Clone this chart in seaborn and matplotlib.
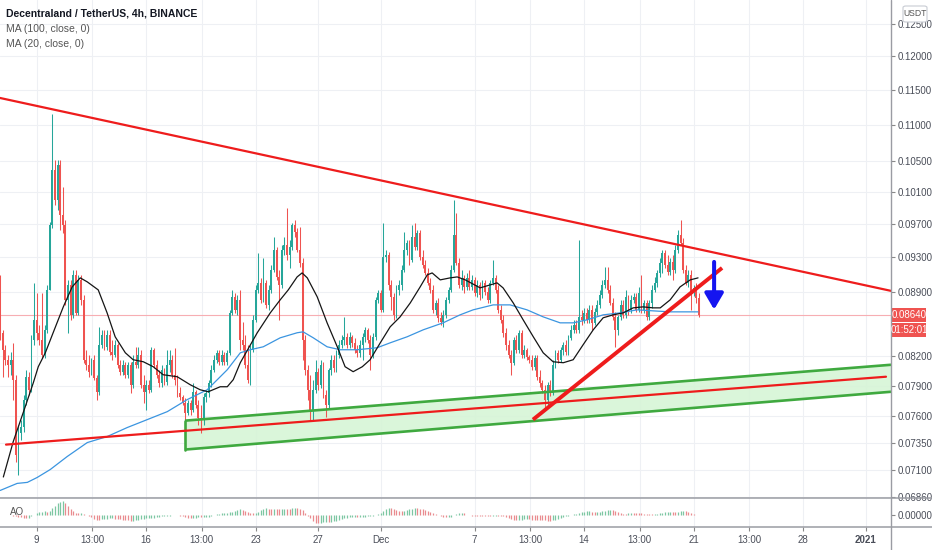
import numpy as np
import pandas as pd
import matplotlib
matplotlib.use("Agg")
import matplotlib.pyplot as plt
import seaborn as sns
from matplotlib.lines import Line2D
from matplotlib.patches import Rectangle, FancyBboxPatch
from matplotlib.ticker import NullLocator, FixedLocator, FixedFormatter

# ---------------- data (prices in units of 1e-5 USDT) ----------------
start_day = 6 + 4 / 6          # Nov 6, 16:00 (x axis = days counted from Nov 0)
candle_step = 1 / 6            # 4h candles
first_open_e5 = 8808

closes_e5 = [
    8448, 8268, 8164, 8112, 8164, 7960, 7239, 7443, 7500, 7761,
    7990, 7859, 8373, 8588, 8448, 8373, 8215, 8480, 8920, 9686,
    10385, 9998, 10451, 9809, 9686, 8808, 8977, 8642, 9091, 8664,
    9034, 8808, 8164, 8112, 8041, 8164, 7980, 7839, 8320, 8426,
    8299, 8426, 8247, 8215, 8320, 8112, 8041, 8112, 8010, 8112,
    7909, 8143, 8112, 8215, 7909, 7839, 7909, 7859, 8268, 8112,
    8010, 7929, 8061, 7940, 8112, 8164, 8010, 7960, 7829, 7790,
    7732, 7634, 7732, 7663, 7839, 7712, 7586, 7567, 7790, 7829,
    7929, 8061, 8164, 8236, 8143, 8215, 8143, 8236, 8664, 8842,
    8697, 8808, 8373, 8320, 8112, 7960, 8268, 8588, 8920, 9000,
    8808, 9000, 8752, 8920, 9149, 9384, 9068, 8977, 9384, 9443,
    9324, 9419, 9686, 9600, 9384, 9230, 8373, 8061, 7859, 7663,
    7859, 8041, 7909, 8112, 7810, 7712, 8061, 8164, 8081, 8215,
    8320, 8373, 8405, 8320, 8405, 8341, 8268, 8236, 8320, 8405,
    8480, 8373, 8215, 8405, 8808, 8886, 8697, 9300, 9324, 8977,
    8842, 8642, 8920, 8977, 9149, 9384, 9467, 9265, 9540, 9419,
    9588, 9300, 9207, 9114, 9000, 8920, 8697, 8774, 8610, 8566,
    8642, 8808, 8920, 9149, 9564, 9230, 8977, 9057, 8954, 9057,
    8954, 9034, 8886, 8977, 8864, 9000, 8898, 8808, 9000, 9057,
    8920, 8697, 8588, 8448, 8320, 8215, 8133, 8373, 8268, 8448,
    8215, 8268, 8195, 8164, 8092, 8184, 7990, 7929, 7859, 7761,
    7909, 7829, 8112, 8236, 8164, 8268, 8320, 8247, 8394, 8480,
    8533, 8480, 8620, 8588, 8664, 8588, 8697, 8555, 8675, 8752,
    8864, 8977, 9034, 8920, 8774, 8620, 8480, 8620, 8752, 8642,
    8842, 8697, 8808, 8842, 8697, 8886, 8697, 8774, 8620, 8774,
    8920, 9000, 9114, 9230, 9348, 9207, 9126, 9242, 9149, 9384,
    9564, 9467, 9149, 9000, 9091, 8886, 8943, 8830, 8642,
]

highs_e5 = [
    9091, 8480, 8320, 8215, 8247, 8341, 8010, 7519, 7567, 7810,
    8061, 8041, 8426, 9000, 8886, 8533, 8886, 8533, 8977, 9722,
    11149, 10518, 10518, 10518, 10164, 9747, 9034, 9034, 9149, 9149,
    9091, 9091, 8864, 8268, 8215, 8184, 8215, 8010, 8512, 8480,
    8480, 8480, 8480, 8373, 8373, 8341, 8164, 8164, 8143, 8143,
    8143, 8215, 8299, 8299, 8268, 8010, 7960, 7960, 8299, 8289,
    8164, 8061, 8112, 8081, 8268, 8268, 8215, 8289, 8010, 7889,
    7810, 7780, 7761, 7761, 7929, 7859, 7761, 7712, 7829, 7859,
    7960, 8112, 8215, 8268, 8268, 8268, 8247, 8268, 8697, 8920,
    8886, 8864, 8920, 8566, 8426, 8320, 8320, 8642, 8977, 9348,
    9057, 9289, 9034, 8977, 9207, 9540, 9419, 9149, 9443, 9540,
    9897, 9503, 9710, 9747, 9649, 9661, 9289, 8426, 8112, 8010,
    7960, 8164, 8081, 8164, 8143, 7859, 8081, 8215, 8215, 8268,
    8373, 8426, 8620, 8448, 8458, 8426, 8394, 8320, 8373, 8448,
    8512, 8501, 8426, 8448, 8842, 8920, 8920, 9710, 9384, 9360,
    9034, 8886, 8977, 9034, 9207, 9600, 9503, 9503, 9686, 9710,
    9624, 9624, 9384, 9265, 9172, 9057, 8977, 8808, 8830, 8675,
    8697, 8842, 8954, 9207, 9998, 9835, 9289, 9149, 9091, 9114,
    9149, 9091, 9068, 9034, 9011, 9034, 9034, 8954, 9034, 9265,
    9091, 8977, 8752, 8642, 8501, 8373, 8268, 8405, 8426, 8480,
    8480, 8320, 8289, 8215, 8215, 8215, 8215, 8061, 7960, 7909,
    7940, 7960, 8164, 8268, 8268, 8299, 8352, 8373, 8426, 8533,
    8588, 8588, 9503, 8697, 8719, 8719, 8752, 8752, 8719, 8808,
    8920, 9034, 9184, 9184, 8977, 8830, 8675, 8642, 8808, 8808,
    8920, 8864, 8864, 8886, 8886, 8954, 9091, 8808, 8808, 8808,
    8977, 9068, 9149, 9289, 9384, 9384, 9324, 9289, 9324, 9443,
    9624, 9747, 9527, 9207, 9149, 9149, 8977, 9000, 8886,
]

lows_e5 = [
    8373, 7990, 8112, 7990, 8010, 7761, 7175, 7058, 7378, 7453,
    7712, 7810, 7839, 8320, 8373, 8320, 8184, 8184, 8448, 8920,
    9649, 9934, 9872, 9624, 9588, 8752, 8448, 8588, 8610, 8642,
    8642, 8752, 8133, 8061, 7990, 8010, 7960, 7761, 7810, 8289,
    8268, 8268, 8215, 8164, 8195, 8081, 8010, 8010, 7980, 7980,
    7829, 7879, 8081, 8081, 7879, 7732, 7663, 7829, 7839, 8081,
    7980, 7889, 7889, 7909, 7909, 8041, 7980, 7909, 7790, 7761,
    7712, 7567, 7615, 7615, 7644, 7683, 7519, 7443, 7519, 7741,
    7790, 7889, 8041, 8133, 8112, 8112, 8112, 8112, 8215, 8642,
    8664, 8642, 8268, 8268, 8081, 7929, 7909, 8247, 8566, 8886,
    8774, 8786, 8719, 8697, 8886, 9126, 9034, 8588, 8943, 9324,
    9265, 9172, 9384, 9540, 9360, 9184, 8164, 8010, 7761, 7567,
    7567, 7829, 7859, 7879, 7780, 7596, 7683, 8010, 8041, 8041,
    8184, 8289, 8320, 8289, 8289, 8299, 8236, 8195, 8195, 8164,
    8352, 8341, 8061, 8184, 8373, 8774, 8675, 8675, 9242, 8920,
    8697, 8588, 8610, 8864, 8920, 9126, 9324, 9207, 9242, 9384,
    9384, 9265, 9172, 9091, 8977, 8886, 8664, 8642, 8566, 8533,
    8512, 8610, 8774, 8898, 9126, 9207, 8943, 8920, 8886, 8920,
    8920, 8920, 8853, 8842, 8808, 8830, 8864, 8774, 8774, 8977,
    8886, 8664, 8555, 8405, 8268, 8184, 8010, 8112, 8236, 8236,
    8184, 8184, 8164, 8133, 8061, 8061, 7960, 7889, 7829, 7663,
    7692, 7800, 7810, 8081, 8133, 8143, 8215, 8215, 8215, 8373,
    8448, 8448, 8448, 8533, 8555, 8555, 8555, 8480, 8533, 8642,
    8719, 8830, 8943, 8886, 8752, 8588, 8299, 8426, 8588, 8610,
    8610, 8642, 8664, 8774, 8675, 8675, 8664, 8664, 8588, 8588,
    8719, 8898, 8954, 9068, 9114, 9172, 9091, 9091, 9034, 9114,
    9348, 9443, 9114, 8977, 8954, 8697, 8853, 8774, 8620,
]

# moving averages (candle index, price e5)
ma20_idx = [1.2, 5, 9.6, 12.7, 14.6, 17.3, 20.3, 24.2, 27.6, 30.7, 33.4, 37.6, 41, 44.1, 48,
            51, 54.9, 58.7, 62.5, 67.9, 72.9, 76.7, 79.8, 84.4, 87.1, 89.4, 92.1, 98.6, 103.6,
            107.4, 110.5, 113.9, 115.8, 117.8, 121.6, 125.4, 129.3, 132.3, 135.4, 138.9, 141.9,
            145.8, 149.6, 153.4, 157.3, 161.1, 163.8, 165.7, 168.8, 172.6, 175.3, 178.4, 184.1,
            188, 190.6, 192.9, 196.8, 200.6, 204.5, 208.3, 212.1, 216, 219.8, 223.6, 227.5,
            231.3, 235.1, 239, 242.8, 246.6, 250.5, 253.2, 257, 260.8, 264.7, 267.7]
ma20_e5 = [7036, 7359, 7692, 7929, 8092, 8236, 8448, 8730, 8954, 9057, 9011, 8920, 8664, 8405, 8236,
           8164, 8143, 8092, 8010, 7990, 7909, 7859, 7839, 7889, 7889, 7960, 8133, 8448, 8664,
           8808, 8920, 9068, 9114, 9057, 8842, 8555, 8299, 8092, 8041, 8092, 8164,
           8341, 8512, 8620, 8774, 8954, 9091, 9114, 9034, 9057, 9068, 9034, 8943,
           8977, 9000, 8943, 8774, 8588, 8405, 8236, 8143, 8133, 8164, 8320, 8480,
           8610, 8642, 8664, 8719, 8730, 8719, 8719, 8808, 8954, 9034, 9057]
ma100_idx = [0, 6.5, 10.4, 14.2, 19.2, 25.7, 33.4, 41, 48.7, 56.4, 64.1, 71.7, 79.4, 87.1, 92.1,
             95.9, 100.9, 107.4, 113.9, 116.2, 120.1, 125.4, 130.4, 136.9, 144.6, 149.6, 156.1,
             162.3, 169.9, 176.4, 181.4, 189.1, 195.6, 202.1, 208.3, 214.8, 219.8, 225.2, 231.3,
             237.8, 244.3, 250.5, 257, 263.5, 267.7]
ma100_e5 = [6917, 6979, 6988, 7032, 7103, 7221, 7350, 7406, 7491, 7567, 7644, 7761, 7859, 8061, 8236,
            8268, 8299, 8394, 8448, 8458, 8394, 8299, 8268, 8268, 8289, 8341, 8405,
            8480, 8555, 8642, 8697, 8752, 8752, 8697, 8620, 8555, 8555, 8588, 8642,
            8664, 8697, 8686, 8675, 8675, 8675]

# axis ticks
price_ticks = [0.125, 0.12, 0.115, 0.11, 0.105, 0.101, 0.097, 0.093, 0.089,
               0.082, 0.079, 0.076, 0.0735, 0.071, 0.0686]
x_tick_pos = [9, 12 + 13 / 24, 16, 19 + 13 / 24, 23, 27, 31, 37, 40 + 13 / 24, 44,
              47 + 13 / 24, 51, 54 + 13 / 24, 58, 62]
x_tick_labels = ["9", "13:00", "16", "13:00", "23", "27", "Dec", "7", "13:00", "14",
                 "13:00", "21", "13:00", "28", "2021"]

# drawings (day, price)
desc_line_x, desc_line_p = [6.653, 63.62], [0.11378, 0.08909]
low_line_x, low_line_p = [7.037, 63.30], [0.07331, 0.07990]
channel_x = [18.48, 63.62]
channel_top = [0.07557, 0.08112]
channel_bot = [0.07285, 0.07839]
rise_line_x, rise_line_p = [40.73, 52.82], [0.07567, 0.09172]
arrow_x, arrow_p = 52.31, [0.09242, 0.08700]
last_price = 0.0864
countdown = "01:52:01"

# ---------------- prepare ----------------
closes = np.array(closes_e5) / 1e5
highs = np.array(highs_e5) / 1e5
lows = np.array(lows_e5) / 1e5
opens = np.concatenate([[first_open_e5 / 1e5], closes[:-1]])
highs = np.maximum(highs, np.maximum(opens, closes))
lows = np.minimum(lows, np.minimum(opens, closes))
n = len(closes)
days = start_day + np.arange(n) * candle_step
up = closes >= opens

UP, DOWN = "#26a69a", "#ef5350"
GRID = "#eef0f4"
TXT = "#4a4e59"

sns.set_theme(style="white")
plt.rcParams["font.family"] = ["Liberation Sans Narrow", "Liberation Sans", "DejaVu Sans"]

W, H = 932, 550
fig = plt.figure(figsize=(W / 100, H / 100), dpi=100)
fig.patch.set_facecolor("white")

def fx(px):
    return px / W

def fy(py):
    return 1 - py / H

ax = fig.add_axes([0, fy(498), fx(891), 498 / H])
ax_ao = fig.add_axes([0, fy(527), fx(891), 29 / H], sharex=ax)

# ---------------- main panel ----------------
ax.set_yscale("log")
ax.set_xlim(6.653, 63.62)
ax.set_ylim(0.06851, 0.12883)
for s in ax.spines.values():
    s.set_visible(False)
ax.yaxis.tick_right()
ax.yaxis.set_major_locator(FixedLocator(price_ticks))
ax.yaxis.set_major_formatter(FixedFormatter([f"{p:.5f}" for p in price_ticks]))
ax.yaxis.set_minor_locator(NullLocator())
ax.xaxis.set_major_locator(FixedLocator(x_tick_pos))
ax.tick_params(axis="y", which="major", right=True, length=3, width=0.8, color="#888",
               labelsize=7, labelcolor=TXT, pad=2)
ax.tick_params(axis="x", bottom=False, labelbottom=False)
ax.grid(True, color=GRID, lw=0.8)
ax.set_axisbelow(True)

# channel
ax.fill([channel_x[0], channel_x[1], channel_x[1], channel_x[0]],
        [channel_top[0], channel_top[1], channel_bot[1], channel_bot[0]],
        color="#d6f5d6", alpha=0.9, lw=0, zorder=1)

# candles
colors = np.where(up, UP, DOWN)
ax.vlines(days, lows, highs, colors=colors, lw=0.75, zorder=3)
ax.bar(days, np.abs(closes - opens), bottom=np.minimum(opens, closes), width=0.12,
       color=colors, lw=0, zorder=3)

# moving averages
sns.lineplot(x=start_day + np.array(ma100_idx) * candle_step, y=np.array(ma100_e5) / 1e5,
             ax=ax, color="#3b95e0", lw=0.9, sort=False, estimator=None, zorder=4)
sns.lineplot(x=start_day + np.array(ma20_idx) * candle_step, y=np.array(ma20_e5) / 1e5,
             ax=ax, color="#151515", lw=0.9, sort=False, estimator=None, zorder=4)

# last price line
ax.axhline(last_price, color="#f7aeb3", lw=0.8, zorder=2)

# drawings
ax.plot(channel_x, channel_top, color="#3fa93f", lw=1.9, zorder=5, solid_capstyle="butt")
ax.plot(channel_x, channel_bot, color="#3fa93f", lw=1.9, zorder=5, solid_capstyle="butt")
ax.plot([channel_x[0], channel_x[0]], [channel_top[0], channel_bot[0]], color="#3fa93f",
        lw=1.9, zorder=5)
ax.plot(low_line_x, low_line_p, color="#ee1c1c", lw=1.6, zorder=6)
ax.plot(desc_line_x, desc_line_p, color="#ee1c1c", lw=1.6, zorder=6)
ax.plot(rise_line_x, rise_line_p, color="#ee1c1c", lw=2.8, zorder=6, solid_capstyle="butt")
ax.annotate("", xy=(arrow_x, arrow_p[1]), xytext=(arrow_x, arrow_p[0]),
            arrowprops=dict(arrowstyle="-|>,head_length=0.6,head_width=0.35", color="#1515f0",
                            lw=2.9, shrinkA=0, shrinkB=0, mutation_scale=16), zorder=7)

# ---------------- AO panel ----------------
median = pd.Series((highs + lows) / 2)
ao = (median.rolling(5, min_periods=1).mean() - median.rolling(34, min_periods=1).mean()).values
ao_up = np.concatenate([[True], np.diff(ao) >= 0])
k = np.abs(ao).max() / 14
ax_ao.set_ylim(-12 * k, 17 * k)
ax_ao.vlines(days, 0, ao, colors=np.where(ao_up, "#7cc7a2", "#e98b8f"), lw=0.9)
for s in ax_ao.spines.values():
    s.set_visible(False)
ax_ao.yaxis.tick_right()
ax_ao.set_yticks([0])
ax_ao.set_yticklabels(["0.00000"])
ax_ao.tick_params(axis="y", right=True, length=3, width=0.8, color="#888", labelsize=7,
                  labelcolor=TXT, pad=2)
ax_ao.set_xticks(x_tick_pos)
ax_ao.set_xticklabels(x_tick_labels)
ax_ao.tick_params(axis="x", bottom=True, length=3, width=0.8, color="#888", labelsize=7,
                  labelcolor=TXT, pad=3)
for lbl in ax_ao.get_xticklabels():
    if lbl.get_text() == "2021":
        lbl.set_fontweight("bold")
ax_ao.grid(True, axis="x", color=GRID, lw=0.8)
ax_ao.grid(False, axis="y")

# ---------------- frame lines ----------------
for py in (498, 527):
    fig.add_artist(Line2D([0, 1], [fy(py), fy(py)], color="#9a9ca3", lw=1.1))
fig.add_artist(Line2D([fx(891), fx(891)], [0, 1], color="#9a9ca3", lw=1.0))

# ---------------- labels ----------------
fig.text(fx(6), fy(14), "Decentraland / TetherUS, 4h, BINANCE", fontsize=7.5,
         color="#131722", va="center", ha="left", fontweight="bold")
fig.text(fx(6), fy(29), "MA (100, close, 0)", fontsize=7.5, color="#555", va="center")
fig.text(fx(6), fy(44), "MA (20, close, 0)", fontsize=7.5, color="#555", va="center")
fig.text(fx(10), fy(512), "AO", fontsize=7, color="#555", va="center")

fig.add_artist(Rectangle((fx(891), fy(322)), fx(35), 14 / H, color="#ef5350", lw=0))
fig.text(fx(909), fy(315), f"{last_price:.5f}", fontsize=7, color="white", ha="center",
         va="center")
fig.add_artist(Rectangle((fx(891), fy(337)), fx(35), 14 / H, color="#ef5350", lw=0))
fig.text(fx(909), fy(330), countdown, fontsize=7, color="white", ha="center", va="center")

fig.add_artist(FancyBboxPatch((fx(903), fy(22)), fx(24), 16 / H,
                              boxstyle="round,pad=0,rounding_size=0.003",
                              facecolor="white", edgecolor="#c8cbd3", lw=0.8, zorder=10))
fig.text(fx(915), fy(14), "USDT", fontsize=6.2, color="#555", ha="center", va="center",
         zorder=11)

fig.savefig("out.png", dpi=100, facecolor="white")
